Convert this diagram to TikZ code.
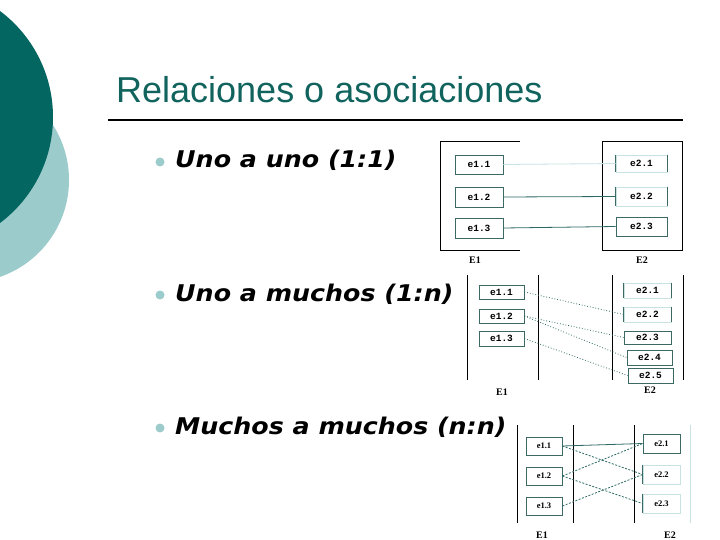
\documentclass[tikz,border=0pt]{standalone}
\usepackage{fontspec}
\setmainfont{Liberation Sans}
\newfontfamily\verd[FakeStretch=1.1]{DejaVu Sans}
\newfontfamily\lblfont{Liberation Serif}
\newfontfamily\monofont{Liberation Mono}
\definecolor{darkteal}{RGB}{3,102,97}
\definecolor{lightteal}{RGB}{156,203,204}
\definecolor{titlecol}{RGB}{17,99,94}
\definecolor{boxcol}{RGB}{60,105,100}
\definecolor{faint}{RGB}{200,225,225}
\definecolor{linecol}{RGB}{45,105,100}
\tikzset{
  ebox/.style={draw=boxcol, line width=0.8pt, inner sep=0pt, font=\monofont\bfseries\fontsize{9.5}{9.5}\selectfont},
  fbox/.style={draw=faint, line width=0.6pt, inner sep=0pt, font=\monofont\bfseries\fontsize{9.5}{9.5}\selectfont},
  sbox/.style={draw=boxcol, line width=0.8pt, inner sep=0pt, font=\lblfont\bfseries\fontsize{8.5}{8.5}\selectfont},
  elabel/.style={font=\lblfont\bfseries\fontsize{10}{10}\selectfont, inner sep=0pt},
  frame/.style={draw=black, line width=1pt},
  conn/.style={draw=linecol, line width=0.8pt},
  dconn/.style={draw=linecol, line width=0.8pt, dotted},
  dsconn/.style={draw=linecol, line width=0.8pt, dash pattern=on 2pt off 1.5pt},
  bullettext/.style={anchor=base west, inner sep=0pt, font=\verd\bfseries\itshape\fontsize{23}{25}\selectfont},
  bulletdot/.style={fill=lightteal, draw=none, circle, minimum size=9pt, inner sep=0pt}
}
\begin{document}
\begin{tikzpicture}[x=1pt,y=-1pt]
\useasboundingbox (0,0) rectangle (720,540);
\begin{scope}
\clip (0,0) rectangle (720,540);
\fill[lightteal] (-33.5,180) circle (102.5);
\fill[darkteal] (-79.5,117) circle (132.5);
\end{scope}
% title
\node[anchor=base west, inner sep=0pt, text=titlecol, font=\fontsize{36}{40}\selectfont] (title) at (116,103) {Relaciones o asociaciones};
\draw[line width=2pt] (108,120) -- (683,120);
% bullets
\node[bulletdot] (b1) at (160,162) {};
\node[bullettext] (t1) at (175,168) {Uno a uno (1:1)};
\node[bulletdot] (b2) at (160,295) {};
\node[bullettext] (t2) at (175,301) {Uno a muchos (1:n)};
\node[bulletdot] (b3) at (160,428) {};
\node[bullettext] (t3) at (175,434) {Muchos a muchos (n:n)};

% ---------- Diagram 1 ----------
\draw[frame] (520,142) -| (440,250) -- (520,250);
\draw[frame] (602,142) rectangle (682,250);
\node[ebox, minimum width=48pt, minimum height=19pt] (a11) at (479,164.5) {e1.1};
\node[ebox, minimum width=48pt, minimum height=20pt] (a12) at (479,197) {e1.2};
\node[ebox, minimum width=48pt, minimum height=20pt] (a13) at (479,228) {e1.3};
\node[fbox, minimum width=51pt, minimum height=17pt] (a21) at (641.5,163.5) {e2.1};
\draw[boxcol, line width=0.8pt] (a21.north west) -- (a21.south west) (a21.north east) -- (a21.south east);
\node[fbox, minimum width=51pt, minimum height=19pt] (a22) at (641.5,196.5) {e2.2};
\draw[boxcol, line width=0.8pt] (a22.north west) -- (a22.south west) (a22.north east) -- (a22.south east);
\node[ebox, minimum width=51pt, minimum height=19pt] (a23) at (641.5,226.5) {e2.3};
\draw[draw=faint, line width=0.8pt] (a11.east) -- (a21.west);
\draw[conn] (a12.east) -- (a22.west);
\draw[conn] (a13.east) -- (a23.west);
\node[elabel] (aE1) at (475,260) {E1};
\node[elabel] (aE2) at (642,260) {E2};

% ---------- Diagram 2 ----------
\draw[frame] (467,275) -- (467,380);
\draw[frame] (538,275) -- (538,380);
\draw[frame] (612,275) -- (612,380);
\draw[frame] (683,275) -- (683,380);
\node[ebox, minimum width=45pt, minimum height=14pt] (b11) at (501.5,292) {e1.1};
\node[ebox, minimum width=45pt, minimum height=14pt] (b12) at (501.5,316) {e1.2};
\node[ebox, minimum width=45pt, minimum height=15pt] (b13) at (501.5,338.5) {e1.3};
\node[fbox, minimum width=47pt, minimum height=15pt] (b21) at (647.5,290.5) {e2.1};
\draw[boxcol, line width=0.8pt] (b21.north west) -- (b21.south west) (b21.north east) -- (b21.south east);
\node[fbox, minimum width=47pt, minimum height=15pt] (b22) at (647.5,314.5) {e2.2};
\draw[boxcol, line width=0.8pt] (b22.north west) -- (b22.south west) (b22.north east) -- (b22.south east);
\node[ebox, minimum width=47pt, minimum height=13pt] (b23) at (647.5,337.5) {e2.3};
\node[ebox, minimum width=45pt, minimum height=15pt] (b24) at (649.5,357.5) {e2.4};
\node[ebox, minimum width=45pt, minimum height=15pt] (b25) at (650.5,375.5) {e2.5};
\draw[dconn] (b11.east) -- (b22.west);
\draw[dconn] (b12.east) -- (b23.west);
\draw[dconn] (b12.east) -- (b24.west);
\draw[dconn] (b13.east) -- (b25.west);
\node[elabel] (bE1) at (502,392) {E1};
\node[elabel] (bE2) at (650,390) {E2};

% ---------- Diagram 3 ----------
\draw[frame] (517,425) -- (517,523);
\draw[frame] (573,425) -- (573,523);
\draw[frame] (634,425) -- (634,523);
\draw[draw=faint, line width=0.8pt] (690,425) -- (690,523);
\node[sbox, minimum width=36pt, minimum height=18pt] (c11) at (544,446) {e1.1};
\node[sbox, minimum width=36pt, minimum height=18pt] (c12) at (544,476) {e1.2};
\node[sbox, minimum width=36pt, minimum height=18pt] (c13) at (544,506) {e1.3};
\node[sbox, minimum width=37pt, minimum height=19pt] (c21) at (661.5,443.5) {e2.1};
\node[sbox, draw=faint, minimum width=37pt, minimum height=19pt] (c22) at (661.5,474.5) {e2.2};
\draw[boxcol, line width=0.8pt] (c22.north west) -- (c22.south west);
\node[sbox, draw=faint, minimum width=37pt, minimum height=19pt] (c23) at (661.5,503.5) {e2.3};
\draw[boxcol, line width=0.8pt] (c23.north west) -- (c23.south west);
\draw[conn] (c11.east) -- (c21.west);
\draw[dsconn] (c11.east) -- (c22.west);
\draw[dsconn] (c12.east) -- (c21.west);
\draw[dsconn] (c12.east) -- (c23.west);
\draw[dsconn] (c13.east) -- (c22.west);
\node[elabel] (cE1) at (542,535) {E1};
\node[elabel] (cE2) at (670,535) {E2};
\end{tikzpicture}
\end{document}
